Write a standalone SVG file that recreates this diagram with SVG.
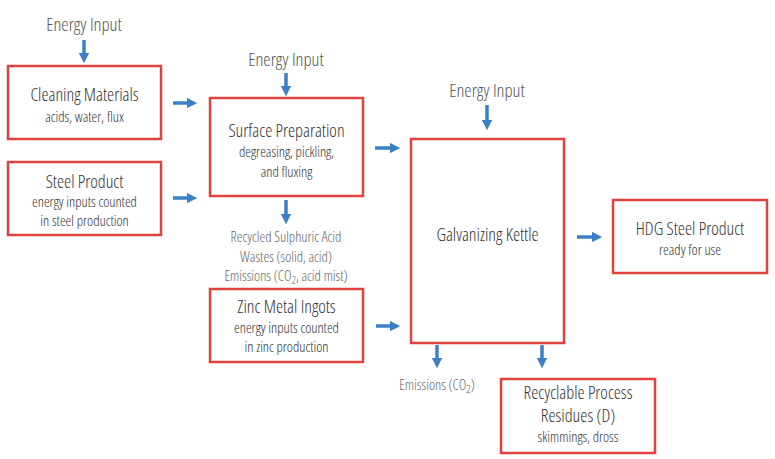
<svg xmlns="http://www.w3.org/2000/svg" width="775" height="459" viewBox="0 0 775 459">
<defs>
<marker id="ah" markerWidth="3" markerHeight="3" refX="1.5" refY="1.5" orient="auto" markerUnits="strokeWidth">
<path d="M0,0 L3,1.5 L0,3 Z" fill="#3b7fc4"/>
</marker>
</defs>
<style>
text{font-family:"Open Sans","DejaVu Sans Condensed","Liberation Sans",sans-serif;font-stretch:condensed;font-weight:300;text-anchor:middle}
.box{fill:#fff;stroke:#e0433d;stroke-width:2.5}
.t{font-size:18px;fill:#333}
.s{font-size:14.5px;fill:#333}
.n{font-size:14.5px;fill:#666}
.e{font-size:18.5px;fill:#555}
.a{stroke:#3b7fc4;stroke-width:3.5;fill:none;marker-end:url(#ah)}
</style>
<rect width="775" height="459" fill="#fff"/>
<g id="connectors">
<line class="a" x1="84" y1="40" x2="84" y2="58"/>
<line class="a" x1="173" y1="103" x2="192" y2="103"/>
<line class="a" x1="173" y1="198" x2="192" y2="198"/>
<line class="a" x1="286" y1="73" x2="286" y2="91"/>
<line class="a" x1="286" y1="200" x2="286" y2="219"/>
<line class="a" x1="375" y1="148" x2="395" y2="148"/>
<line class="a" x1="376" y1="326" x2="395" y2="326"/>
<line class="a" x1="487" y1="105" x2="487" y2="125"/>
<line class="a" x1="577" y1="237" x2="597" y2="237"/>
<line class="a" x1="437" y1="345" x2="437" y2="363"/>
<line class="a" x1="542" y1="345" x2="542" y2="363"/>
</g>
<g id="labels">
<text class="e" x="84" y="31">Energy Input</text>
<text class="e" x="286" y="66">Energy Input</text>
<text class="e" x="487" y="97">Energy Input</text>
<text class="n" x="286" y="242">Recycled Sulphuric Acid</text>
<text class="n" x="286" y="261.5">Wastes (solid, acid)</text>
<text class="n" x="286" y="281">Emissions (CO<tspan font-size="11" dy="3">2</tspan><tspan dy="-3">, acid mist)</tspan></text>
<text class="n" x="437" y="390">Emissions (CO<tspan font-size="11" dy="3">2</tspan><tspan dy="-3">)</tspan></text>
</g>
<g id="cleaning">
<rect class="box" x="8" y="66" width="153" height="73"/>
<text class="t" x="84.5" y="101">Cleaning Materials</text>
<text class="s" x="84.5" y="122">acids, water, flux</text>
</g>
<g id="steel">
<rect class="box" x="8" y="162" width="153" height="73"/>
<text class="t" x="84.5" y="188">Steel Product</text>
<text class="s" x="84.5" y="207">energy inputs counted</text>
<text class="s" x="84.5" y="226">in steel production</text>
</g>
<g id="surface">
<rect class="box" x="210" y="98" width="153" height="98"/>
<text class="t" x="286.5" y="137">Surface Preparation</text>
<text class="s" x="286.5" y="157">degreasing, pickling,</text>
<text class="s" x="286.5" y="177">and fluxing</text>
</g>
<g id="zinc">
<rect class="box" x="210" y="289" width="153" height="73"/>
<text class="t" x="286.5" y="313">Zinc Metal Ingots</text>
<text class="s" x="286.5" y="333">energy inputs counted</text>
<text class="s" x="286.5" y="352">in zinc production</text>
</g>
<g id="kettle">
<rect class="box" x="411" y="139" width="153" height="204"/>
<text class="t" x="487.5" y="241">Galvanizing Kettle</text>
</g>
<g id="hdg">
<rect class="box" x="613" y="200" width="154" height="73"/>
<text class="t" x="690" y="235">HDG Steel Product</text>
<text class="s" x="690" y="255">ready for use</text>
</g>
<g id="residues">
<rect class="box" x="501" y="379" width="154" height="74"/>
<text class="t" x="578" y="399" font-size="16.5">Recyclable Process</text>
<text class="t" x="578" y="421.5" font-size="16.5">Residues (D)</text>
<text class="s" x="578" y="442">skimmings, dross</text>
</g>
</svg>
